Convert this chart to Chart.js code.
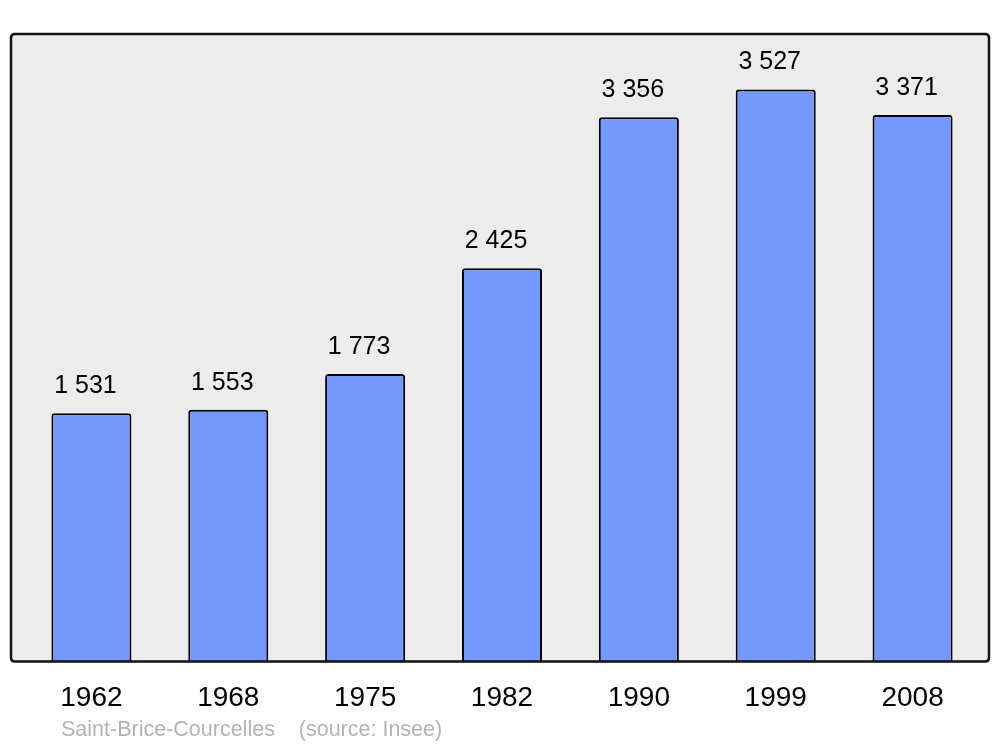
<!DOCTYPE html>
<html>
<head>
<meta charset="utf-8">
<script src="https://cdn.jsdelivr.net/npm/chart.js@4/dist/chart.umd.min.js"></script>
<style>
  html, body { margin: 0; padding: 0; background: #ffffff; }
  #wrap { width: 1000px; height: 747px; position: relative; }
</style>
</head>
<body>
<div id="wrap"><canvas id="c" width="1000" height="747"></canvas></div>
<script>
const years = ["1962", "1968", "1975", "1982", "1990", "1999", "2008"];
const population = [1531, 1553, 1773, 2425, 3356, 3527, 3371];
const valueLabels = ["1 531", "1 553", "1 773", "2 425", "3 356", "3 527", "3 371"];
const footerText = "Saint-Brice-Courcelles    (source: Insee)";

const FONT = "'Liberation Sans', Arial, sans-serif";

function roundRect(ctx, x, y, w, h, r) {
  ctx.beginPath();
  ctx.moveTo(x + r, y);
  ctx.lineTo(x + w - r, y);
  ctx.quadraticCurveTo(x + w, y, x + w, y + r);
  ctx.lineTo(x + w, y + h - r);
  ctx.quadraticCurveTo(x + w, y + h, x + w - r, y + h);
  ctx.lineTo(x + r, y + h);
  ctx.quadraticCurveTo(x, y + h, x, y + h - r);
  ctx.lineTo(x, y + r);
  ctx.quadraticCurveTo(x, y, x + r, y);
  ctx.closePath();
}

const framePlugin = {
  id: 'frame',
  beforeDraw(chart) {
    const ctx = chart.ctx;
    const a = chart.chartArea;
    ctx.save();
    ctx.fillStyle = '#ffffff';
    ctx.fillRect(0, 0, chart.width, chart.height);
    roundRect(ctx, 11, a.top, 978, a.bottom - a.top, 4);
    ctx.fillStyle = '#ececec';
    ctx.fill();
    ctx.restore();
  },
  afterDatasetsDraw(chart) {
    const ctx = chart.ctx;
    const a = chart.chartArea;
    ctx.save();
    roundRect(ctx, 11, a.top, 978, a.bottom - a.top, 4);
    ctx.lineWidth = 2.5;
    ctx.strokeStyle = '#111111';
    ctx.stroke();
    // value labels
    const meta = chart.getDatasetMeta(0);
    ctx.fillStyle = '#000000';
    ctx.font = '25px ' + FONT;
    ctx.textAlign = 'center';
    ctx.textBaseline = 'middle';
    meta.data.forEach((bar, i) => {
      ctx.fillText(valueLabels[i], bar.x - 6, bar.y - 27);
    });
    // footer
    ctx.fillStyle = '#b3b3b3';
    ctx.font = '21.5px ' + FONT;
    ctx.textAlign = 'left';
    ctx.fillText(footerText, 61, 730);
    ctx.restore();
  }
};

new Chart(document.getElementById('c'), {
  type: 'bar',
  data: {
    labels: years,
    datasets: [{
      data: population,
      backgroundColor: '#7399ff',
      borderColor: '#000000',
      borderWidth: 2,
      borderSkipped: 'bottom',
      borderRadius: { topLeft: 3, topRight: 3, bottomLeft: 0, bottomRight: 0 },
      categoryPercentage: 1.0,
      barPercentage: 0.585
    }]
  },
  options: {
    responsive: false,
    animation: false,
    devicePixelRatio: 1,
    layout: { padding: { left: 23, right: 19, top: 34, bottom: 12 } },
    plugins: {
      legend: { display: false },
      tooltip: { enabled: false },
      title: { display: false }
    },
    scales: {
      x: {
        grid: { display: false, drawTicks: false },
        border: { display: false },
        ticks: {
          color: '#000000',
          font: { family: FONT, size: 28 },
          padding: 20,
          maxRotation: 0
        }
      },
      y: {
        display: false,
        min: 0,
        max: 3870
      }
    }
  },
  plugins: [framePlugin]
});
</script>
</body>
</html>
